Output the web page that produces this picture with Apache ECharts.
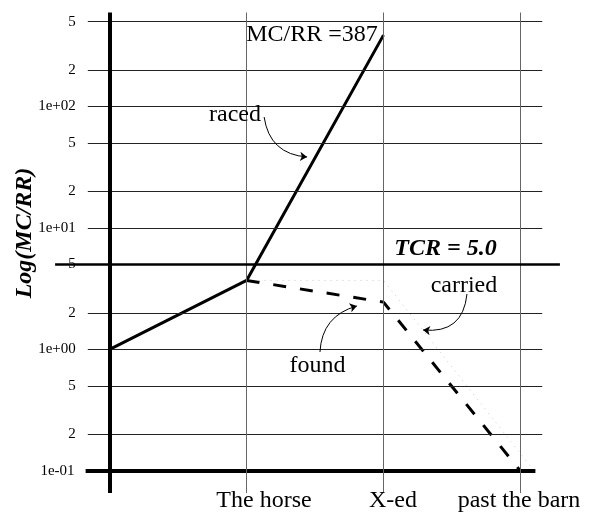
<!DOCTYPE html>
<html>
<head>
<meta charset="utf-8">
<style>
  html, body { margin: 0; padding: 0; background: #fff; }
  #chart { width: 589px; height: 513px; }
</style>
<script src="https://cdn.jsdelivr.net/npm/echarts@6/dist/echarts.min.js"></script>
</head>
<body>
<div id="chart"></div>
<script>
// words of the sentence, placed at x = 1, 2, 3
const xCategories = ['The horse', 'X-ed', 'past the barn']
const xCategoryPos = [1, 2, 3]

// MC/RR readings
const racedX = [0, 1, 2]
const racedY = [1, 3.7, 387]
const foundX = [1, 2, 3]
const foundY = [3.7, 2.45, 0.1]
// faint dotted path
const ghostX = [1, 2, 3.1]
const ghostY = [3.7, 3.7, 0.1]

const tcr = 5.0

// y ticks, 1-2-5 per decade
const yTicks = [0.1, 0.2, 0.5, 1, 2, 5, 10, 20, 50, 100, 200, 500]
const yTickLabels = ['1e-01', '2', '5', '1e+00', '2', '5', '1e+01', '2', '5', '1e+02', '2', '5']

// layout: the grid fills the whole page, everything placed in data space
const SERIF = 'Liberation Serif'
const X_MIN = -0.8015, X_MAX = 3.5015
const Y_MIN = 0.04497, Y_MAX = 753.3
const GRID_X0 = -0.16, GRID_X1 = 3.16
const AXIS_Y0 = 0.0656, AXIS_Y1 = 594
const BOTTOM_X0 = -0.176, BOTTOM_X1 = 3.11
const TCR_X0 = -0.399, TCR_X1 = 3.289
const LABEL_Y = 0.0565
const catShift = [0.127, 0.069, -0.01]

const chart = echarts.init(document.getElementById('chart'))

const gridLines = yTicks.map((v, i) => {
  const bottom = i === 0
  return [
    {
      coord: [bottom ? BOTTOM_X0 : GRID_X0, v],
      lineStyle: bottom ? { width: 4, color: '#000' } : undefined,
      label: { formatter: yTickLabels[i], distance: bottom ? 11 : 12 }
    },
    { coord: [bottom ? BOTTOM_X1 : GRID_X1, v] }
  ]
})

const vertLines = xCategoryPos.map(x => [
  { coord: [x, AXIS_Y0], lineStyle: { color: '#666', width: 1 }, label: { show: false } },
  { coord: [x, AXIS_Y1] }
])

// arrows from the words to the lines
const arrows = [
  { from: [1.128, 81.9], to: [1.442, 38.4], curve: -0.4 },
  { from: [1.536, 0.952], to: [1.806, 2.277], curve: 0.36 },
  { from: [2.610, 2.859], to: [2.289, 1.445], curve: 0.5 }
]

const notes = [
  { text: 'MC/RR =' + racedY[2], at: [1.478, 391.6] },
  { text: 'raced', at: [0.915, 85.9] },
  { text: 'found', at: [1.518, 0.730] },
  { text: 'carried', at: [2.588, 3.33] },
  { text: 'TCR = ' + tcr.toFixed(1), at: [2.453, 6.69], bold: true },
  { text: 'Log(MC/RR)', at: [-0.62, 9.09], bold: true, rotate: 90 }
].concat(xCategories.map((c, i) => ({ text: c, at: [xCategoryPos[i] + catShift[i], LABEL_Y] })))

const option = {
  animation: false,
  grid: { left: 0, right: 0, top: 0, bottom: 0 },
  xAxis: { type: 'value', min: X_MIN, max: X_MAX, show: false },
  yAxis: { type: 'log', logBase: 10, min: Y_MIN, max: Y_MAX, show: false },
  series: [
    {
      name: 'grid',
      type: 'line',
      z: 1,
      symbol: 'none',
      silent: true,
      data: [[0, 1]],
      markLine: {
        silent: true,
        symbol: 'none',
        lineStyle: { color: '#222', width: 1, type: 'solid' },
        label: { position: 'start', fontFamily: SERIF, fontSize: 15, color: '#000' },
        data: gridLines.concat(vertLines)
      }
    },
    {
      name: 'ghost',
      type: 'line',
      z: 2,
      symbol: 'none',
      silent: true,
      data: ghostX.map((x, i) => [x, ghostY[i]]),
      lineStyle: { color: '#c8c8c8', width: 1, type: [1, 5] }
    },
    {
      name: 'found',
      type: 'line',
      z: 3,
      symbol: 'none',
      silent: true,
      data: foundX.map((x, i) => [x, foundY[i]]),
      lineStyle: { color: '#000', width: 3, type: [13, 14] }
    },
    {
      name: 'raced',
      type: 'line',
      z: 4,
      symbol: 'none',
      silent: true,
      data: racedX.map((x, i) => [x, racedY[i]]),
      lineStyle: { color: '#000', width: 3 }
    },
    {
      name: 'arrows',
      type: 'lines',
      coordinateSystem: 'cartesian2d',
      z: 5,
      silent: true,
      symbol: ['none', 'arrow'],
      symbolSize: 7,
      lineStyle: { color: '#000', width: 1, opacity: 1 },
      data: arrows.map(a => ({ coords: [a.from, a.to], lineStyle: { curveness: a.curve } }))
    },
    {
      name: 'notes',
      type: 'line',
      z: 6,
      symbol: 'none',
      silent: true,
      data: [[0, 1]],
      markLine: {
        silent: true,
        symbol: 'none',
        label: { show: false },
        lineStyle: { color: '#000', type: 'solid' },
        data: [
          // TCR threshold
          [{ coord: [TCR_X0, tcr], lineStyle: { width: 2.5 } }, { coord: [TCR_X1, tcr] }],
          // y axis
          [{ coord: [0, AXIS_Y0], lineStyle: { width: 4 } }, { coord: [0, AXIS_Y1] }]
        ]
      },
      markPoint: {
        silent: true,
        symbol: 'circle',
        symbolSize: 0,
        label: { show: true, position: 'inside', color: '#000', fontFamily: SERIF, fontSize: 24 },
        data: notes.map(n => ({
          coord: n.at,
          label: {
            formatter: n.text,
            fontWeight: n.bold ? 'bold' : 'normal',
            fontStyle: n.bold ? 'italic' : 'normal',
            rotate: n.rotate || 0
          }
        }))
      }
    }
  ]
}

chart.setOption(option)
</script>
</body>
</html>
